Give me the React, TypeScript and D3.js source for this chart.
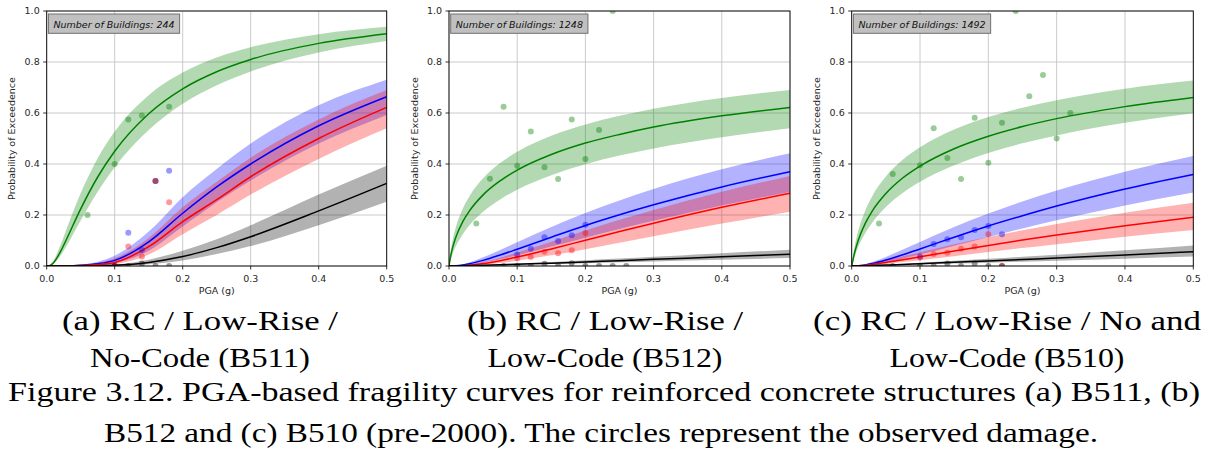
import React from 'react';
import * as d3 from 'd3';

// ---------- shared grid of PGA values (g) at which curves were read ----------
const PGA = [0, 0.001, 0.0025, 0.005, 0.01, 0.02, 0.03, 0.05, 0.075, 0.1, 0.15, 0.2, 0.25, 0.3, 0.4, 0.5];

const X_TICKS = [0, 0.1, 0.2, 0.3, 0.4, 0.5];
const Y_TICKS = [0, 0.2, 0.4, 0.6, 0.8, 1.0];

// ---------- Panel (a) B511 ----------
const A_GREEN_MED = [0, 0, 0.0002, 0.0021, 0.0128, 0.055, 0.11, 0.224, 0.349, 0.45, 0.597, 0.695, 0.762, 0.81, 0.873, 0.911];
const A_GREEN_UP = [0, 0, 0.0005, 0.0038, 0.0208, 0.08, 0.151, 0.286, 0.423, 0.527, 0.67, 0.759, 0.818, 0.858, 0.909, 0.938];
const A_GREEN_LO = [0, 0, 0.0001, 0.0012, 0.0083, 0.039, 0.082, 0.178, 0.291, 0.387, 0.533, 0.636, 0.709, 0.763, 0.837, 0.882];
const A_BLUE_MED = [0, 0, 0, 0, 0, 0, 0.0003, 0.003, 0.009, 0.022, 0.095, 0.207, 0.31, 0.4, 0.55, 0.664];
const A_BLUE_UP = [0, 0, 0, 0, 0, 0, 0.0006, 0.006, 0.017, 0.04, 0.135, 0.27, 0.38, 0.48, 0.63, 0.73];
const A_BLUE_LO = [0, 0, 0, 0, 0, 0, 0.0001, 0.001, 0.004, 0.011, 0.06, 0.155, 0.25, 0.335, 0.48, 0.592];
const A_RED_MED = [0, 0, 0, 0, 0, 0, 0.0002, 0.002, 0.006, 0.014, 0.076, 0.174, 0.26, 0.35, 0.5, 0.622];
const A_RED_UP = [0, 0, 0, 0, 0, 0, 0.0004, 0.004, 0.012, 0.03, 0.11, 0.23, 0.33, 0.425, 0.575, 0.69];
const A_RED_LO = [0, 0, 0, 0, 0, 0, 0, 0.001, 0.003, 0.007, 0.045, 0.125, 0.2, 0.28, 0.42, 0.54];
const A_BLACK_MED = [0, 0, 0, 0, 0, 0, 0, 0, 0.001, 0.003, 0.014, 0.037, 0.072, 0.115, 0.216, 0.324];
const A_BLACK_UP = [0, 0, 0, 0, 0, 0, 0, 0.0002, 0.002, 0.006, 0.025, 0.06, 0.105, 0.16, 0.28, 0.393];
const A_BLACK_LO = [0, 0, 0, 0, 0, 0, 0, 0, 0.0003, 0.001, 0.007, 0.022, 0.047, 0.078, 0.16, 0.252];

const A_GREEN_PX = [0.06, 0.1, 0.12, 0.14, 0.16, 0.18];
const A_GREEN_PY = [0.2, 0.4, 0.575, 0.59, 0.333, 0.625];
const A_BLUE_PX = [0.1, 0.12, 0.14, 0.16, 0.18];
const A_BLUE_PY = [0, 0.13, 0.063, 0.333, 0.374];
const A_RED_PX = [0.1, 0.12, 0.14, 0.16, 0.18];
const A_RED_PY = [0, 0.076, 0.037, 0.333, 0.25];
const A_BLACK_PX = [0.1, 0.12, 0.14, 0.16, 0.18];
const A_BLACK_PY = [0, 0, 0.01, 0, 0];

// ---------- Panel (b) B512 ----------
const B_GREEN_MED = [0, 0.0174, 0.0398, 0.069, 0.1126, 0.173, 0.216, 0.279, 0.334, 0.376, 0.437, 0.482, 0.516, 0.545, 0.589, 0.622];
const B_GREEN_UP = [0, 0.0271, 0.0584, 0.097, 0.152, 0.224, 0.274, 0.344, 0.404, 0.448, 0.511, 0.555, 0.589, 0.617, 0.659, 0.69];
const B_GREEN_LO = [0, 0.0101, 0.0248, 0.0451, 0.0772, 0.124, 0.16, 0.213, 0.261, 0.299, 0.356, 0.399, 0.433, 0.461, 0.505, 0.54];
const B_BLUE_MED = [0, 0, 0, 0.0001, 0.0007, 0.0037, 0.0086, 0.0221, 0.0431, 0.066, 0.113, 0.159, 0.201, 0.24, 0.31, 0.37];
const B_BLUE_UP = [0, 0, 0, 0.0002, 0.0014, 0.0063, 0.014, 0.034, 0.063, 0.093, 0.153, 0.208, 0.257, 0.302, 0.379, 0.442];
const B_BLUE_LO = [0, 0, 0, 0, 0.0003, 0.0019, 0.0046, 0.0128, 0.0264, 0.042, 0.076, 0.111, 0.145, 0.177, 0.237, 0.29];
const B_RED_MED = [0, 0, 0, 0, 0.0002, 0.0011, 0.003, 0.0094, 0.021, 0.035, 0.067, 0.101, 0.135, 0.168, 0.23, 0.285];
const B_RED_UP = [0, 0, 0, 0, 0.0003, 0.0021, 0.0054, 0.0155, 0.0327, 0.0525, 0.0955, 0.139, 0.181, 0.22, 0.291, 0.353];
const B_RED_LO = [0, 0, 0, 0, 0.0001, 0.0005, 0.0015, 0.005, 0.0119, 0.0207, 0.042, 0.066, 0.0915, 0.117, 0.1665, 0.213];
const B_BLACK_MED = [0, 0, 0, 0.0001, 0.0003, 0.0008, 0.0015, 0.003, 0.005, 0.007, 0.011, 0.016, 0.021, 0.026, 0.036, 0.046];
const B_BLACK_UP = [0, 0, 0, 0.0001, 0.0004, 0.0012, 0.002, 0.0042, 0.007, 0.0098, 0.0155, 0.023, 0.029, 0.036, 0.05, 0.064];
const B_BLACK_LO = [0, 0, 0, 0, 0.0002, 0.0005, 0.001, 0.002, 0.0034, 0.0047, 0.0075, 0.011, 0.0143, 0.018, 0.025, 0.031];

const B_GREEN_PX = [0.04, 0.06, 0.08, 0.1, 0.12, 0.14, 0.16, 0.18, 0.2, 0.22, 0.24];
const B_GREEN_PY = [0.167, 0.342, 0.625, 0.393, 0.527, 0.387, 0.341, 0.575, 0.42, 0.533, 1.0];
const B_BLUE_PX = [0.1, 0.12, 0.14, 0.16, 0.18, 0.2];
const B_BLUE_PY = [0.045, 0.068, 0.113, 0.098, 0.121, 0.162];
const B_RED_PX = [0.1, 0.12, 0.14, 0.16, 0.18, 0.2];
const B_RED_PY = [0.03, 0.035, 0.056, 0.05, 0.062, 0.129];
const B_BLACK_PX = [0.08, 0.1, 0.12, 0.14, 0.16, 0.18, 0.2, 0.22, 0.24, 0.26];
const B_BLACK_PY = [0, 0, 0, 0.009, 0, 0.011, 0, 0, 0, 0];

// ---------- Panel (c) B510 ----------
const C_GREEN_MED = [0, 0.0124, 0.032, 0.0599, 0.104, 0.168, 0.215, 0.284, 0.346, 0.392, 0.46, 0.509, 0.547, 0.578, 0.625, 0.661];
const C_GREEN_UP = [0, 0.0199, 0.048, 0.0858, 0.142, 0.219, 0.274, 0.351, 0.418, 0.466, 0.535, 0.584, 0.621, 0.65, 0.695, 0.727];
const C_GREEN_LO = [0, 0.008, 0.0218, 0.0426, 0.077, 0.1297, 0.17, 0.231, 0.287, 0.33, 0.395, 0.4435, 0.481, 0.512, 0.5615, 0.599];
const C_BLUE_MED = [0, 0, 0, 0.0001, 0.0009, 0.0042, 0.0094, 0.0233, 0.0444, 0.067, 0.113, 0.157, 0.197, 0.235, 0.302, 0.359];
const C_BLUE_UP = [0, 0, 0, 0.0003, 0.0016, 0.0071, 0.0152, 0.0357, 0.0648, 0.0946, 0.153, 0.2056, 0.253, 0.296, 0.37, 0.431];
const C_BLUE_LO = [0, 0, 0, 0.0001, 0.0004, 0.0023, 0.0054, 0.0144, 0.0287, 0.0449, 0.0793, 0.1138, 0.147, 0.179, 0.237, 0.288];
const C_RED_MED = [0, 0, 0, 0.0002, 0.0009, 0.0032, 0.0064, 0.014, 0.0248, 0.036, 0.0587, 0.0806, 0.1017, 0.1214, 0.158, 0.191];
const C_RED_UP = [0, 0, 0, 0.0004, 0.0017, 0.0057, 0.0108, 0.0225, 0.0383, 0.0541, 0.0849, 0.1137, 0.14, 0.165, 0.209, 0.248];
const C_RED_LO = [0, 0, 0, 0.0001, 0.0004, 0.0017, 0.0035, 0.0082, 0.0152, 0.0227, 0.0385, 0.0546, 0.0702, 0.0853, 0.1143, 0.141];
const C_BLACK_MED = [0, 0, 0, 0.0001, 0.0004, 0.001, 0.0018, 0.0037, 0.006, 0.009, 0.0145, 0.02, 0.0255, 0.031, 0.043, 0.056];
const C_BLACK_UP = [0, 0, 0, 0.0001, 0.0006, 0.0015, 0.0026, 0.0053, 0.0086, 0.0129, 0.0207, 0.0286, 0.0365, 0.0443, 0.0615, 0.08];
const C_BLACK_LO = [0, 0, 0, 0, 0.0003, 0.0007, 0.0012, 0.0024, 0.004, 0.0059, 0.0096, 0.0132, 0.0168, 0.0205, 0.0284, 0.037];

const C_GREEN_PX = [0.04, 0.06, 0.1, 0.12, 0.14, 0.16, 0.18, 0.2, 0.22, 0.24, 0.26, 0.28, 0.3, 0.32];
const C_GREEN_PY = [0.167, 0.361, 0.395, 0.54, 0.424, 0.341, 0.581, 0.405, 0.562, 1.0, 0.666, 0.749, 0.5, 0.6];
const C_BLUE_PX = [0.1, 0.12, 0.14, 0.16, 0.18, 0.2, 0.22];
const C_BLUE_PY = [0.037, 0.086, 0.105, 0.113, 0.141, 0.157, 0.125];
const C_RED_PX = [0.1, 0.12, 0.14, 0.16, 0.18, 0.2, 0.22];
const C_RED_PY = [0.033, 0.047, 0.052, 0.068, 0.076, 0.125, 0.0];
const C_BLACK_PX = [0.06, 0.1, 0.12, 0.14, 0.16, 0.18, 0.2, 0.22];
const C_BLACK_PY = [0, 0, 0, 0.01, 0, 0.01, 0, 0];

const BUILDINGS = [244, 1248, 1492];

const SUBCAPTIONS = [
  ['(a) RC / Low-Rise /', 'No-Code (B511)'],
  ['(b) RC / Low-Rise /', 'Low-Code (B512)'],
  ['(c) RC / Low-Rise / No and', 'Low-Code (B510)'],
];
const CAPTION = [
  'Figure 3.12. PGA-based fragility curves for reinforced concrete structures (a) B511, (b)',
  'B512 and (c) B510 (pre-2000). The circles represent the observed damage.',
];

const COLORS = ['#008000', '#0000ff', '#ff0000', '#000000'];

type Curve = { med: number[]; up: number[]; lo: number[] };
type Pts = { x: number[]; y: number[] };

const PANELS: { curves: Curve[]; points: Pts[]; left: number; width: number }[] = [
  {
    left: 46.7, width: 340,
    curves: [
      { med: A_GREEN_MED, up: A_GREEN_UP, lo: A_GREEN_LO },
      { med: A_BLUE_MED, up: A_BLUE_UP, lo: A_BLUE_LO },
      { med: A_RED_MED, up: A_RED_UP, lo: A_RED_LO },
      { med: A_BLACK_MED, up: A_BLACK_UP, lo: A_BLACK_LO },
    ],
    points: [
      { x: A_GREEN_PX, y: A_GREEN_PY },
      { x: A_BLUE_PX, y: A_BLUE_PY },
      { x: A_RED_PX, y: A_RED_PY },
      { x: A_BLACK_PX, y: A_BLACK_PY },
    ],
  },
  {
    left: 449, width: 341,
    curves: [
      { med: B_GREEN_MED, up: B_GREEN_UP, lo: B_GREEN_LO },
      { med: B_BLUE_MED, up: B_BLUE_UP, lo: B_BLUE_LO },
      { med: B_RED_MED, up: B_RED_UP, lo: B_RED_LO },
      { med: B_BLACK_MED, up: B_BLACK_UP, lo: B_BLACK_LO },
    ],
    points: [
      { x: B_GREEN_PX, y: B_GREEN_PY },
      { x: B_BLUE_PX, y: B_BLUE_PY },
      { x: B_RED_PX, y: B_RED_PY },
      { x: B_BLACK_PX, y: B_BLACK_PY },
    ],
  },
  {
    left: 851.7, width: 341.6,
    curves: [
      { med: C_GREEN_MED, up: C_GREEN_UP, lo: C_GREEN_LO },
      { med: C_BLUE_MED, up: C_BLUE_UP, lo: C_BLUE_LO },
      { med: C_RED_MED, up: C_RED_UP, lo: C_RED_LO },
      { med: C_BLACK_MED, up: C_BLACK_UP, lo: C_BLACK_LO },
    ],
    points: [
      { x: C_GREEN_PX, y: C_GREEN_PY },
      { x: C_BLUE_PX, y: C_BLUE_PY },
      { x: C_RED_PX, y: C_RED_PY },
      { x: C_BLACK_PX, y: C_BLACK_PY },
    ],
  },
];

const TOP = 11;
const BOTTOM = 266;
const AX_FONT = 'DejaVu Sans, sans-serif';
const SERIF = "'Liberation Serif', 'Times New Roman', Times, serif";

function measure(text: string, font: string): number {
  const c = document.createElement('canvas');
  const ctx = c.getContext('2d');
  if (!ctx) return text.length * 5;
  ctx.font = font;
  return ctx.measureText(text).width;
}

function Panel({ idx }: { idx: number }) {
  const p = PANELS[idx];
  const x = d3.scaleLinear().domain([0, 0.5]).range([p.left, p.left + p.width]);
  const y = d3.scaleLinear().domain([0, 1]).range([BOTTOM, TOP]);
  const clipId = `clip${idx}`;
  const area = (c: Curve) =>
    d3.area<number>()
      .x((_, i) => x(PGA[i]))
      .y0((_, i) => y(c.lo[i]))
      .y1((_, i) => y(c.up[i]))
      .curve(d3.curveMonotoneX)(c.med) || '';
  const line = (c: Curve) =>
    d3.line<number>()
      .x((_, i) => x(PGA[i]))
      .y((d) => y(d))
      .curve(d3.curveMonotoneX)(c.med) || '';
  const label = `Number of Buildings: ${BUILDINGS[idx]}`;
  const tw = measure(label, `italic 9.5px "DejaVu Sans"`);
  const bx = p.left + 1.7;
  const plotMid = p.left + p.width / 2;
  return (
    <g>
      <defs>
        <clipPath id={clipId}>
          <rect x={p.left} y={TOP} width={p.width} height={BOTTOM - TOP} />
        </clipPath>
      </defs>
      <g stroke="#c4c4c4" strokeWidth={0.9}>
        {X_TICKS.map((t) => (
          <line key={'gx' + t} x1={x(t)} x2={x(t)} y1={TOP} y2={BOTTOM} />
        ))}
        {Y_TICKS.map((t) => (
          <line key={'gy' + t} x1={p.left} x2={p.left + p.width} y1={y(t)} y2={y(t)} />
        ))}
      </g>
      <g clipPath={`url(#${clipId})`}>
        {p.curves.map((c, i) => (
          <path key={'a' + i} d={area(c)} fill={COLORS[i]} fillOpacity={0.3} stroke="none" />
        ))}
        {p.curves.map((c, i) => (
          <path key={'l' + i} d={line(c)} fill="none" stroke={COLORS[i]} strokeWidth={1.5} />
        ))}
        {p.points.map((s, i) =>
          s.x.map((v, j) => (
            <circle key={'p' + i + '_' + j} cx={x(v)} cy={y(s.y[j])} r={3} fill={COLORS[i]} fillOpacity={0.4} />
          ))
        )}
      </g>
      <rect x={p.left} y={TOP} width={p.width} height={BOTTOM - TOP} fill="none" stroke="#000" strokeWidth={0.9} />
      <g stroke="#000" strokeWidth={0.8}>
        {X_TICKS.map((t) => (
          <line key={'tx' + t} x1={x(t)} x2={x(t)} y1={BOTTOM} y2={BOTTOM + 3.5} />
        ))}
        {Y_TICKS.map((t) => (
          <line key={'ty' + t} x1={p.left - 3.5} x2={p.left} y1={y(t)} y2={y(t)} />
        ))}
      </g>
      <g fontFamily={AX_FONT} fontSize={9.5} fill="#262626">
        {X_TICKS.map((t) => (
          <text key={'lx' + t} x={x(t)} y={281.5} textAnchor="middle">{t.toFixed(1)}</text>
        ))}
        {Y_TICKS.map((t) => (
          <text key={'ly' + t} x={p.left - 7} y={y(t)} dy="0.36em" textAnchor="end">{t.toFixed(1)}</text>
        ))}
        <text x={plotMid} y={294} textAnchor="middle">PGA (g)</text>
        <text transform={`translate(${p.left - 31.5},${(TOP + BOTTOM) / 2}) rotate(-90)`} textAnchor="middle">
          Probability of Exceedence
        </text>
      </g>
      <rect x={bx} y={14} width={tw + 10} height={19.3} fill="#c0c0c0" stroke="#707070" strokeWidth={1} />
      <text x={bx + 5} y={28} fontFamily={AX_FONT} fontSize={9.5} fontStyle="italic" fill="#111">{label}</text>
    </g>
  );
}

const SUB_CENTERS = [200, 605, 1007];
const SUB_WIDTHS = [
  [276, 220],
  [276, 235],
  [388, 235],
];
const CAP_CENTER = [604, 601];
const CAP_WIDTHS = [1192, 994];

export default function App() {
  return (
    <svg width={1209} height={462} style={{ position: 'absolute', left: 0, top: 0, background: '#fff' }}>
      <rect width={1209} height={462} fill="#fff" />
      {PANELS.map((_, i) => (
        <Panel key={i} idx={i} />
      ))}
      <g style={{ fontFamily: SERIF }} fontSize={28} fill="#000">
        {SUBCAPTIONS.map((lines, i) =>
          lines.map((t, j) => (
            <text
              key={'s' + i + j}
              x={SUB_CENTERS[i]}
              y={j === 0 ? 330 : 367}
              textAnchor="middle"
              textLength={SUB_WIDTHS[i][j]}
              lengthAdjust="spacingAndGlyphs"
            >
              {t}
            </text>
          ))
        )}
        {CAPTION.map((t, j) => (
          <text
            key={'c' + j}
            x={CAP_CENTER[j]}
            y={j === 0 ? 401 : 442}
            textAnchor="middle"
            textLength={CAP_WIDTHS[j]}
            lengthAdjust="spacingAndGlyphs"
          >
            {t}
          </text>
        ))}
      </g>
    </svg>
  );
}
